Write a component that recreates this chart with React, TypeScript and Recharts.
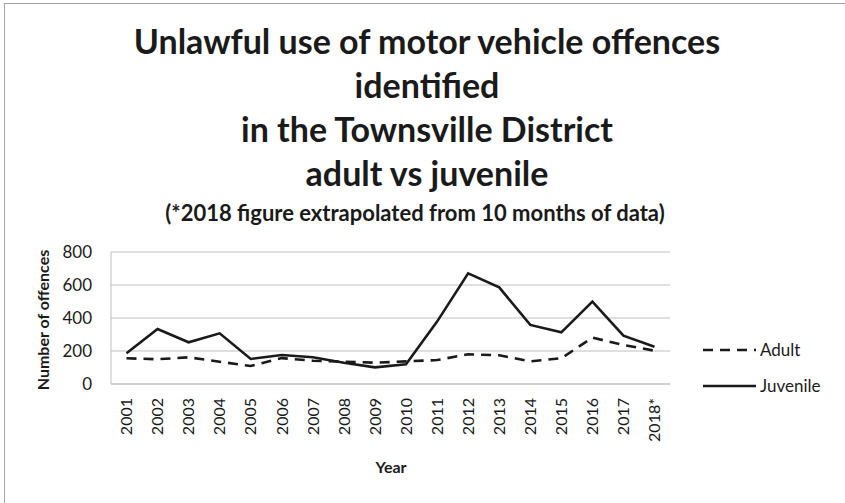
import { LineChart, Line, XAxis, YAxis, CartesianGrid } from "recharts"

const years = ["2001", "2002", "2003", "2004", "2005", "2006", "2007", "2008", "2009", "2010", "2011", "2012", "2013", "2014", "2015", "2016", "2017", "2018*"]
const adult = [156, 150, 162, 135, 109, 157, 141, 135, 129, 137, 145, 180, 174, 137, 156, 281, 236, 202]
const juvenile = [186, 333, 253, 307, 152, 176, 162, 129, 101, 119, 378, 671, 586, 358, 313, 499, 293, 226]
const yTicks = [0, 200, 400, 600, 800]

const titleLines = ["Unlawful use of motor vehicle offences", "identified", "in the Townsville District", "adult vs juvenile"]
const subtitle = "(*2018 figure extrapolated from 10 months of data)"

const data = years.map((year, i) => ({ year, Adult: adult[i], Juvenile: juvenile[i] }))

const FONT = "Lato, 'Open Sans', sans-serif"
const INK = "#1a1a1a"
const GRID = "#bfbfbf"

function YearTick({ x, y, payload }: any) {
  return (
    <text x={x} y={y} transform={`rotate(-90, ${x}, ${y})`} dy="0.36em" textAnchor="end" fontSize={16} fontFamily={FONT} fill={INK}>
      {payload.value}
    </text>
  )
}

// legend drawn by hand, Excel style: line sample then name
function LegendBox() {
  const items = [
    { name: "Adult", dash: "10 7", y: 350 },
    { name: "Juvenile", dash: undefined, y: 386 },
  ]
  return (
    <svg width={140} height={80} style={{ position: "absolute", left: 700, top: 330 }}>
      {items.map((it) => (
        <g key={it.name}>
          <line x1={3} x2={56} y1={it.y - 330} y2={it.y - 330} stroke={INK} strokeWidth={2.5} strokeDasharray={it.dash} />
          <text x={60} y={it.y - 330} dy="0.35em" fontSize={17} fontFamily={FONT} fill={INK}>{it.name}</text>
        </g>
      ))}
    </svg>
  )
}

export default function App() {
  return (
    <div style={{ position: "absolute", left: 0, top: 0, width: 845, height: 503, background: "#fff", overflow: "hidden" }}>
      <div style={{ position: "absolute", left: 4, top: 3, width: 900, height: 600, border: "1px solid #a6a6a6" }} />
      <LineChart width={845} height={503} data={data} margin={{ top: 252, right: 175, bottom: 49, left: 51 }}>
        <CartesianGrid vertical={false} stroke={GRID} strokeWidth={1} />
        <XAxis dataKey="year" interval={0} height={70} axisLine={{ stroke: GRID }} tickLine={false} tick={<YearTick />} tickMargin={8} padding={{ left: 15.5, right: 15.5 }} />
        <YAxis width={60} domain={[0, 800]} ticks={yTicks} axisLine={{ stroke: GRID }} tickLine={false} tickSize={0} tickMargin={19} tick={{ fontSize: 17, fontFamily: FONT, fill: INK }} />
        <Line dataKey="Adult" stroke={INK} strokeWidth={2.6} strokeDasharray="10 7" dot={false} isAnimationActive={false} />
        <Line dataKey="Juvenile" stroke={INK} strokeWidth={2.6} dot={false} isAnimationActive={false} />
      </LineChart>
      <LegendBox />
      <svg width={845} height={503} style={{ position: "absolute", left: 0, top: 0, pointerEvents: "none" }}>
        {titleLines.map((t, i) => (
          <text key={t} x={427} y={54 + i * 44} textAnchor="middle" fontSize={34} fontWeight="bold" fontFamily={FONT} fill={INK}>{t}</text>
        ))}
        <text x={415} y={221} textAnchor="middle" fontSize={22} fontWeight="bold" fontFamily={FONT} fill={INK}>{subtitle}</text>
        <text x={0} y={0} transform="translate(49, 320) rotate(-90)" textAnchor="middle" fontSize={16} fontWeight="bold" fontFamily={FONT} fill={INK}>Number of offences</text>
        <text x={391} y={473} textAnchor="middle" fontSize={16} fontWeight="bold" fontFamily={FONT} fill={INK}>Year</text>
      </svg>
    </div>
  )
}
